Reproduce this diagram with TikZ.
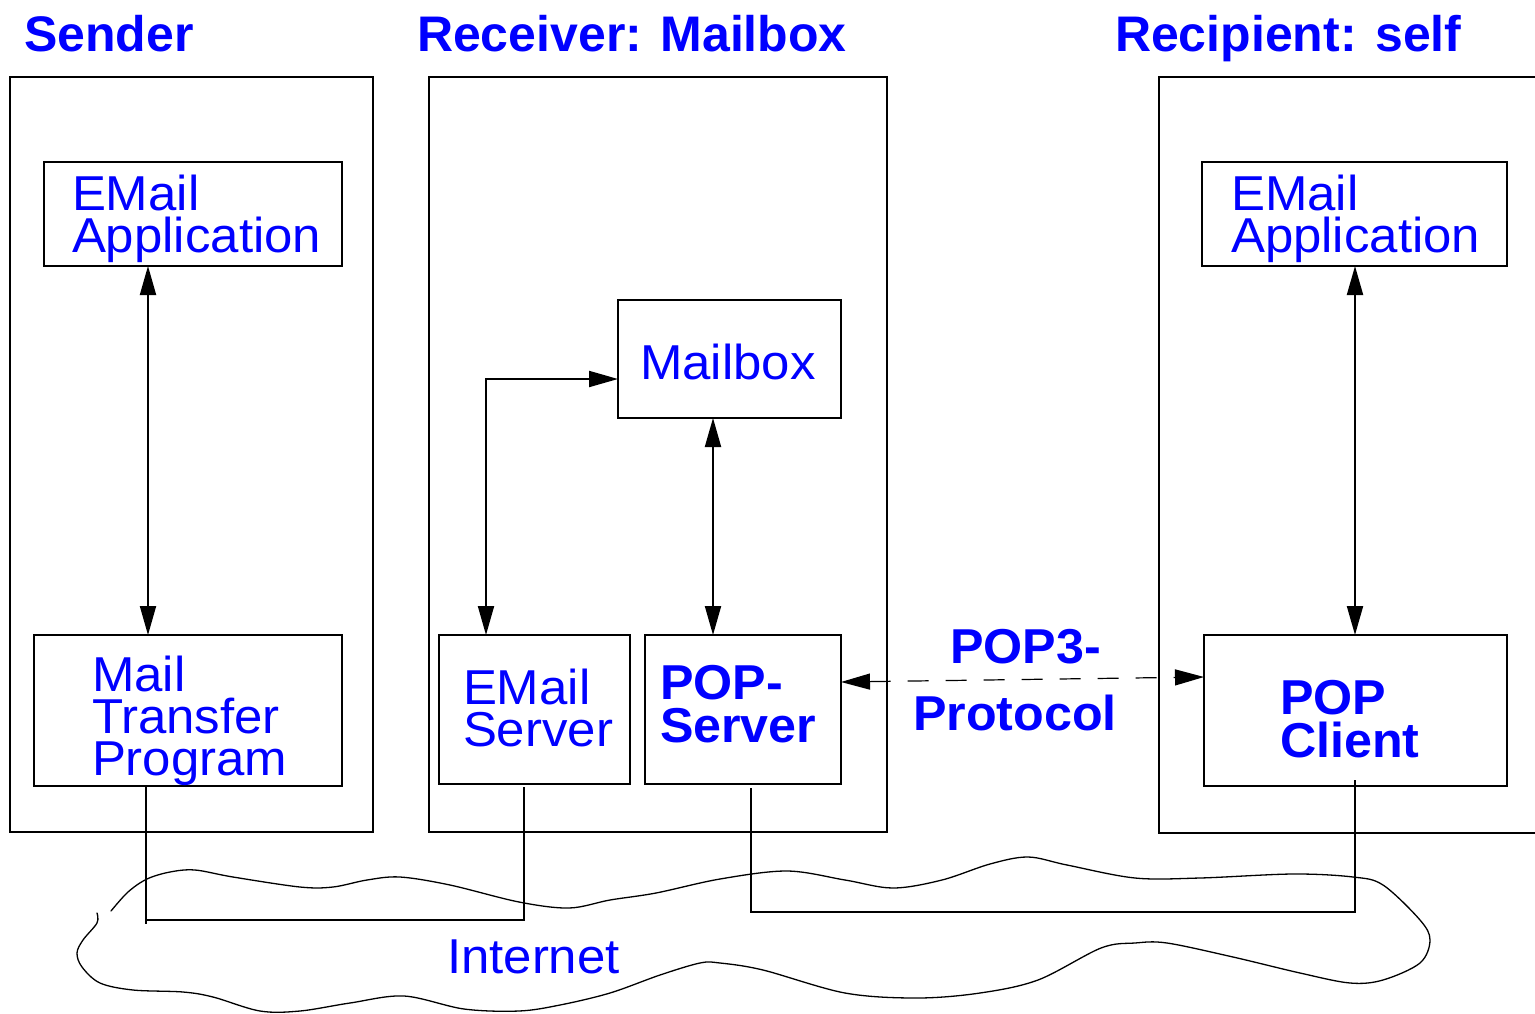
\documentclass[tikz,border=0pt]{standalone}
\usepackage{fontspec}
\setmainfont{Liberation Sans}
% slightly wider face for the labels inside the diagram
\newfontfamily\labelfont[FakeStretch=1.04, BoldFeatures={FakeStretch=1.025}]{Liberation Sans}
\usetikzlibrary{arrows.meta,fit}
\definecolor{labelblue}{RGB}{0,0,255}
% left-aligned stack of lines whose reference point is the first baseline
\newcommand\stk[2][42pt]{\vtop{\baselineskip=#1\relax\lineskiplimit=-100pt\lineskip=0pt\halign{##\hfil\cr#2\crcr}}}

\begin{document}
\begin{tikzpicture}[x=1pt,y=-1pt,
  frame/.style={draw, line width=2pt, inner sep=0pt, outer sep=0pt},
  box/.style={draw, line width=2pt, inner sep=0pt, outer sep=0pt},
  lbl/.style={text=labelblue, inner sep=0pt, outer sep=0pt, anchor=base west,
              font=\labelfont\fontsize{49}{42}\selectfont},
  blbl/.style={lbl, font=\labelfont\fontsize{49}{43}\selectfont\bfseries},
  hdr/.style={lbl, font=\fontsize{50}{50}\selectfont\bfseries},
  tip/.tip={Triangle[length=29pt,width=16pt]},
  biarrow/.style={line width=2pt, tip-tip},
  dasharrow/.style={line width=1.2pt, dash pattern=on 21pt off 17pt, tip-tip},
  netline/.style={line width=2pt},
  cloudline/.style={line width=1.3pt, line join=round, line cap=round}]

\useasboundingbox (0,0) rectangle (1535,1013);

% headings
\node[hdr] (hsend) at (24,51) {Sender};
\node[hdr] (hrecv) at (417,51) {Receiver: Mailbox};
\node[hdr] (hrcpt) at (1115,51) {Recipient: self};

% host frames
\node[frame, fit={(10,77) (373,832)}] (sendframe) {};
\node[frame, fit={(429,77) (887,832)}] (recvframe) {};
\draw[line width=2pt] (1535,77) -- (1159,77) -- (1159,833) -- (1535,833);

% components
\node[box, fit={(44,162) (342,266)}] (sapp) {};
\node[box, fit={(34,635) (342,786)}] (smtp) {};
\node[box, fit={(618,300) (841,418)}] (mbox) {};
\node[box, fit={(439,635) (630,784)}] (eserv) {};
\node[box, fit={(645,635) (841,784)}] (pops) {};
\node[box, fit={(1202,162) (1507,266)}] (rapp) {};
\node[box, fit={(1204,635) (1507,786)}] (popc) {};

% component labels
\node[lbl] (sappt) at (72,210) {\stk{EMail\cr Application}};
\node[lbl] (smtpt) at (92,691) {\stk{Mail\cr Transfer\cr Program}};
\node[lbl] (mboxt) at (640,379) {Mailbox};
\node[lbl] (eservt) at (463,704) {\stk{EMail\cr Server}};
\node[blbl] (popst) at (660,699) {\stk[43pt]{POP-\cr Server}};
\node[lbl] (rappt) at (1231,210) {\stk{EMail\cr Application}};
\node[blbl] (popct) at (1280,714) {\stk[43pt]{POP\cr Client}};
\node[blbl] (popthree) at (950,663) {POP3-};
\node[blbl] (protocol) at (913,730) {Protocol};
\node[lbl] (inet) at (447,973) {Internet};

% local connections
\draw[biarrow] ([xshift=104pt]sapp.south west) -- ([xshift=114pt]smtp.north west);
\draw[biarrow] ([yshift=-20pt]mbox.west) -| ([xshift=47pt]eserv.north west);
\draw[biarrow] ([xshift=95pt]mbox.south west) -- ([xshift=68pt]pops.north west);
\draw[biarrow] ([xshift=153pt]rapp.south west) -- ([xshift=151pt]popc.north west);

% POP3 session
\draw[dasharrow] ([yshift=27.5pt]pops.east) -- ([yshift=33.5pt]popc.west);

% network attachments
\draw[netline] ([xshift=112pt]smtp.south west) -- ++(0,138);
\draw[netline] ([xshift=112pt]smtp.south west) ++(0,134) -| ([xshift=85pt,yshift=-3pt]eserv.south west);
\draw[netline] ([xshift=106pt,yshift=-4pt]pops.south west) -- ++(0,124) -| ([xshift=151pt,yshift=6pt]popc.south west);

% Internet cloud
\draw[cloudline] plot[smooth, tension=0.55] coordinates {
  (111,911) (128,892) (147,879) (170,872) (195,870) (233,877) (300,887)
  (333,887) (367,880) (400,877) (450,885) (519,902) (569,908) (610,900)
  (656,893) (720,879) (787,871) (845,880) (893,888) (942,880) (990,864)
  (1028,857) (1067,865) (1135,878) (1200,878) (1293,874) (1353,877)
  (1383,885) (1420,920) (1430,940) (1420,963) (1383,980) (1350,983)
  (1300,973) (1233,957) (1167,943) (1135,943) (1101,948) (1038,980)
  (980,993) (917,998) (845,993) (763,970) (720,963) (700,963) (660,975)
  (610,993) (560,1005) (519,1011) (464,1009) (404,996) (350,1003)
  (300,1011) (260,1011) (213,997) (183,992) (133,990) (100,983) (82,967)
  (77,953) (83,940) (97,923) (97,913)};
\end{tikzpicture}
\end{document}
